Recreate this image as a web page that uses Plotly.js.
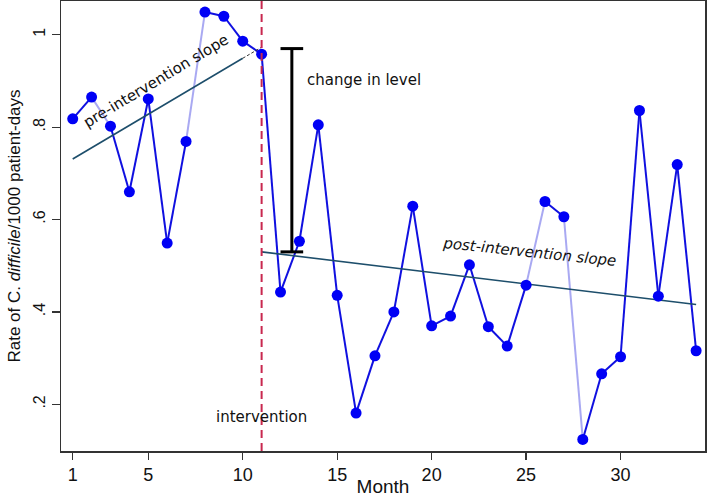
<!DOCTYPE html>
<html>
<head>
<meta charset="utf-8">
<script src="https://cdn.plot.ly/plotly-3.0.1.min.js"></script>
<style>html,body{margin:0;padding:0;background:#fff;}#chart{width:708px;height:497px;}</style>
</head>
<body>
<div id="chart"></div>
<script>
// ---- data ----
var months = [1,2,3,4,5,6,7,8,9,10,11,12,13,14,15,16,17,18,19,20,21,22,23,24,25,26,27,28,29,30,31,32,33,34];
var rates = [0.818,0.865,0.802,0.660,0.861,0.549,0.769,1.049,1.040,0.986,
             0.958,0.443,0.553,0.805,0.436,0.181,0.305,0.400,0.629,0.370,
             0.391,0.502,0.368,0.326,0.458,0.639,0.606,0.124,0.266,0.303,
             0.836,0.434,0.719,0.316];
// segments (start month) drawn in light colour
var lightSegmentStarts = [2,7,25,27];
var preSlopeX = [1,10];
var preSlopeY = [0.731,0.949];
var preExtX = [10,11];
var preExtY = [0.949,0.973];
var postSlopeX = [11,34];
var postSlopeY = [0.530,0.416];
var interventionMonth = 11;
var levelX = 12.6;
var levelCapX = [12.0,13.2];
var levelY = [0.530,0.970];
var xTicks = [1,5,10,15,20,25,30];
var yTicks = [0.2,0.4,0.6,0.8,1];
var yTickText = ['.2','.4','.6','.8','1'];

// build dark / light segment traces
var darkX=[],darkY=[],liteX=[],liteY=[];
for (var i=0;i<months.length-1;i++){
  var isLight = lightSegmentStarts.indexOf(months[i])>=0;
  var tx = isLight?liteX:darkX, ty = isLight?liteY:darkY;
  tx.push(months[i],months[i+1],null);
  ty.push(rates[i],rates[i+1],null);
}

var traces = [
  {x:liteX,y:liteY,mode:'lines',line:{color:'#a9a9f2',width:2},hoverinfo:'skip'},
  {x:darkX,y:darkY,mode:'lines',line:{color:'#1010e0',width:2},hoverinfo:'skip'},
  {x:preSlopeX,y:preSlopeY,mode:'lines',line:{color:'#1d4e6b',width:1.6}},
  {x:preExtX,y:preExtY,mode:'lines',line:{color:'#333',width:1,dash:'3px,2px'}},
  {x:postSlopeX,y:postSlopeY,mode:'lines',line:{color:'#1d4e6b',width:1.6}},
  {x:months,y:rates,mode:'markers',marker:{color:'#0000f5',size:11}}
];

var annFont = {family:'DejaVu Sans',size:15,color:'#111'};
var layout = {
  width:708,height:497,
  margin:{l:61,r:3,t:1,b:46},
  showlegend:false,
  paper_bgcolor:'#fff',plot_bgcolor:'#fff',
  xaxis:{range:[0.38,34.47],tickvals:xTicks,ticks:'outside',ticklen:7,tickwidth:1.2,tickcolor:'#333',
    showline:true,linecolor:'#333',linewidth:1.5,mirror:true,showgrid:false,zeroline:false,
    tickfont:{family:'Liberation Sans, Arial',size:18,color:'#111'},
    title:{text:'Month',font:{family:'Liberation Sans, Arial',size:19,color:'#111'},standoff:0}},
  yaxis:{range:[0.099,1.073],tickvals:yTicks,ticktext:yTickText,tickangle:-90,ticks:'outside',ticklen:8,tickwidth:1.2,tickcolor:'#333',
    showline:true,linecolor:'#333',linewidth:1.5,mirror:true,showgrid:false,zeroline:false,
    tickfont:{family:'Liberation Sans, Arial',size:16,color:'#111'},
    title:{text:'Rate of C. <i>difficile</i>/1000 patient-days',font:{family:'Liberation Sans, Arial',size:17,color:'#111'},standoff:6}},
  shapes:[
    {type:'line',xref:'x',yref:'paper',x0:interventionMonth,x1:interventionMonth,y0:0,y1:1,line:{color:'#c8284f',width:2,dash:'8px,5px'}},
    {type:'line',xref:'x',yref:'y',x0:levelX,x1:levelX,y0:levelY[0],y1:levelY[1],line:{color:'#000',width:3}},
    {type:'line',xref:'x',yref:'y',x0:levelCapX[0],x1:levelCapX[1],y0:levelY[0],y1:levelY[0],line:{color:'#000',width:3}},
    {type:'line',xref:'x',yref:'y',x0:levelCapX[0],x1:levelCapX[1],y0:levelY[1],y1:levelY[1],line:{color:'#000',width:3}}
  ],
  annotations:[
    {x:5.4,y:0.9,xref:'x',yref:'y',text:'pre-intervention slope',showarrow:false,textangle:-31,font:annFont},
    {x:13.3,y:0.902,xref:'x',yref:'y',text:'change in level',showarrow:false,xanchor:'left',font:annFont},
    {x:25.2,y:0.530,xref:'x',yref:'y',text:'<i>post-intervention slope</i>',showarrow:false,textangle:6,font:annFont},
    {x:11,y:0.173,xref:'x',yref:'y',text:'intervention',showarrow:false,font:annFont}
  ]
};
Plotly.newPlot('chart',traces,layout,{displayModeBar:false,staticPlot:true});
</script>
</body>
</html>
